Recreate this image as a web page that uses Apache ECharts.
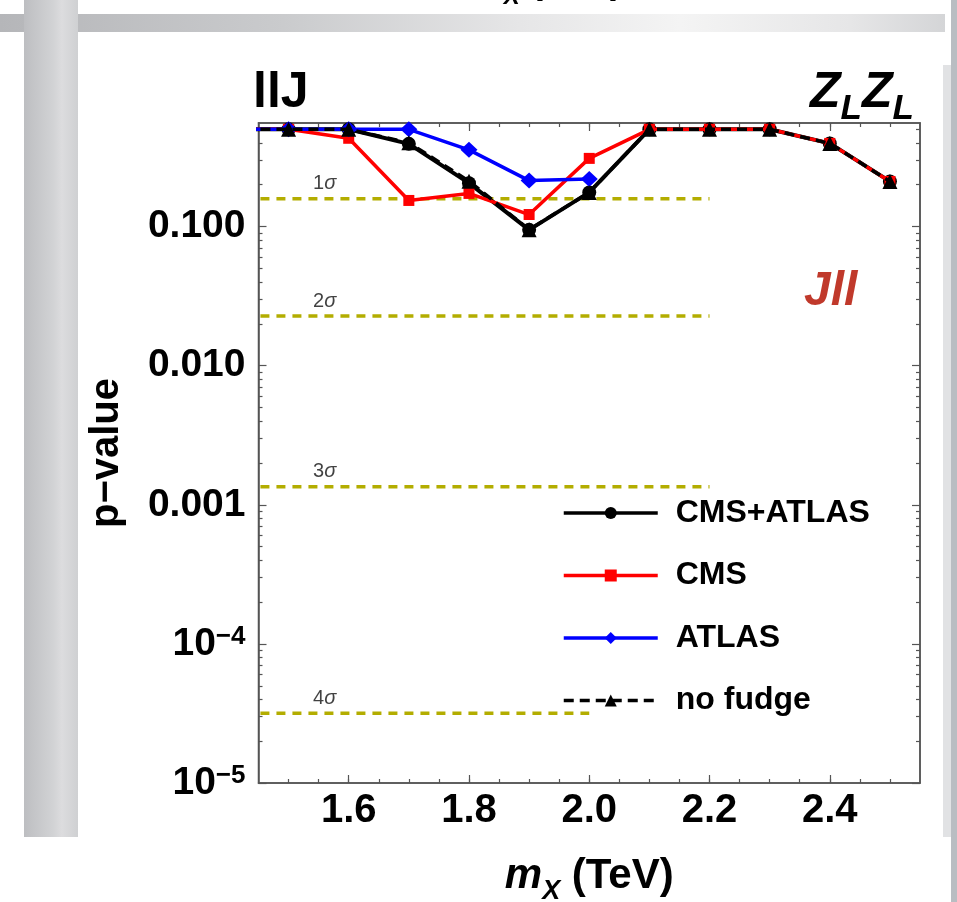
<!DOCTYPE html>
<html>
<head>
<meta charset="utf-8">
<script src="https://cdn.jsdelivr.net/npm/echarts@6/dist/echarts.min.js"></script>
<style>
  html, body { margin: 0; padding: 0; background: #ffffff; }
  #chart { width: 957px; height: 902px; }
</style>
</head>
<body>
<div id="chart"></div>
<script>
// Resonance mass points (TeV) and local p-values per channel
const massTeV    = [1.4, 1.5, 1.6, 1.7, 1.8, 1.9, 2.0, 2.1, 2.2, 2.3, 2.4, 2.5];
const pCombined  = [0.5, 0.5, 0.5, 0.393, 0.205, 0.0947, 0.176, 0.5, 0.5, 0.5, 0.396, 0.211];
const pCMS       = [0.5, 0.5, 0.431, 0.154, 0.173, 0.122, 0.309, 0.5, 0.5, 0.5, 0.396, 0.211];
const massATLAS  = [1.4, 1.5, 1.6, 1.7, 1.8, 1.9, 2.0];
const pATLAS     = [0.5, 0.5, 0.5, 0.5, 0.356, 0.214, 0.220];
const pNoFudge   = [0.5, 0.5, 0.5, 0.40, 0.212, 0.095, 0.176, 0.5, 0.5, 0.5, 0.396, 0.211];

const seriesNames = ['CMS+ATLAS', 'CMS', 'ATLAS', 'no fudge'];

// One-sided significance reference levels
const sigmaLevels = ['1', '2', '3', '4'];
const sigmaP      = [0.1587, 0.02275, 0.00135, 3.167e-5];
const sigmaStart  = [1.4, 1.4, 1.4, 1.4];
const sigmaEnd    = [2.2, 2.2, 2.2, 2.0];
const sigmaLabelX = 1.56;

// Axis ranges and tick labels
const xRange = [1.45, 2.55];
const yRange = [1e-5, 0.555];
const xTickValues = [1.6, 1.8, 2.0, 2.2, 2.4];
const xTickLabels = ['1.6', '1.8', '2.0', '2.2', '2.4'];
const yTickValues = [1e-5, 1e-4, 1e-3, 1e-2, 0.1];
const yTickLabels = ['10^−5', '10^−4', '0.001', '0.010', '0.100'];

// Minor tick positions
const xMinorTicks = [];
for (let v = 1.5; v <= 2.5001; v += 0.05) xMinorTicks.push(Math.round(v * 100) / 100);
const yMinorTicks = [];
for (let e = -5; e <= -1; e++) {
  for (let k = 2; k <= 9; k++) {
    const v = k * Math.pow(10, e);
    if (v <= yRange[1]) yMinorTicks.push(parseFloat(v.toPrecision(3)));
  }
}

const FONT = '"Liberation Sans", Arial, Helvetica, sans-serif';
const AXIS_COLOR = '#555';

function pairs(xs, ys) { return xs.map((x, i) => [x, ys[i]]); }

function xLabel(v) {
  const i = xTickValues.findIndex(t => Math.abs(t - v) < 1e-6);
  return i >= 0 ? xTickLabels[i] : '';
}
function yLabel(v) {
  let best = 0, bd = Infinity;
  yTickValues.forEach((t, i) => {
    const d = Math.abs(Math.log10(t) - Math.log10(v));
    if (d < bd) { bd = d; best = i; }
  });
  const s = yTickLabels[best];
  if (s.indexOf('^') >= 0) {
    const parts = s.split('^');
    return '{b|' + parts[0] + '}{s|' + parts[1] + '}';
  }
  return '{b|' + s + '}';
}

function xAxisDef(pos, major) {
  return {
    type: 'value', position: pos, min: xRange[0], max: xRange[1],
    axisLine: { show: major, onZero: false, lineStyle: { color: AXIS_COLOR, width: 1.5 } },
    axisTick: { show: true, inside: true, length: major ? 8 : 4,
      customValues: major ? xTickValues : xMinorTicks,
      lineStyle: { color: AXIS_COLOR, width: 1.2 } },
    axisLabel: { show: false },
    splitLine: { show: false }
  };
}
function yAxisDef(pos, major) {
  return {
    type: 'log', logBase: 10, position: pos, min: yRange[0], max: yRange[1],
    axisLine: { show: major, onZero: false, lineStyle: { color: AXIS_COLOR, width: 1.5 } },
    axisTick: { show: true, inside: true, length: major ? 8 : 4,
      customValues: major ? yTickValues : yMinorTicks,
      lineStyle: { color: AXIS_COLOR, width: 1.2 } },
    axisLabel: { show: false },
    splitLine: { show: false }
  };
}

const xAxes = [xAxisDef('bottom', true), xAxisDef('bottom', false), xAxisDef('top', true), xAxisDef('top', false)];
xAxes[0].axisLabel = {
  show: true, customValues: xTickValues, formatter: xLabel, margin: 8,
  color: '#000', fontFamily: FONT, fontWeight: 'bold', fontSize: 40
};
xAxes[0].name = '{i|m}{sub|X}{t| (TeV)}';
xAxes[0].nameLocation = 'middle';
xAxes[0].nameGap = 72;
xAxes[0].nameTextStyle = {
  color: '#000', fontFamily: FONT,
  rich: {
    i: { fontSize: 42, fontWeight: 'bold', fontStyle: 'italic', fontFamily: FONT, color: '#000' },
    sub: { fontSize: 27, fontWeight: 'bold', fontStyle: 'italic', fontFamily: FONT, color: '#000', verticalAlign: 'bottom', padding: [0, 0, -8, 0] },
    t: { fontSize: 42, fontWeight: 'bold', fontFamily: FONT, color: '#000' }
  }
};

const yAxes = [yAxisDef('left', true), yAxisDef('left', false), yAxisDef('right', true), yAxisDef('right', false)];
yAxes[0].axisLabel = {
  show: true, customValues: yTickValues, formatter: yLabel, margin: 13,
  color: '#000', fontFamily: FONT,
  rich: {
    b: { fontSize: 39, fontWeight: 'bold', fontFamily: FONT, color: '#000', lineHeight: 40 },
    s: { fontSize: 26, fontWeight: 'bold', fontFamily: FONT, color: '#000', verticalAlign: 'top', lineHeight: 22 }
  }
};
yAxes[0].name = 'p−value';
yAxes[0].nameLocation = 'middle';
yAxes[0].nameGap = 132;
yAxes[0].nameTextStyle = { color: '#000', fontFamily: FONT, fontWeight: 'bold', fontSize: 40 };

const sigmaSeries = sigmaP.map((p, i) => ({
  type: 'line', name: 'sigma' + sigmaLevels[i], silent: true, z: 1,
  data: [[sigmaStart[i], p], [sigmaEnd[i], p]],
  symbol: 'none',
  lineStyle: { color: '#b3ad00', width: 3.5, type: [9, 7] }
}));

const sigmaLabelSeries = {
  type: 'scatter', silent: true, z: 1, symbolSize: 0,
  data: sigmaP.map((p, i) => [sigmaLabelX, p, sigmaLevels[i]]),
  label: {
    show: true, position: 'top', distance: 5,
    formatter: prm => '{n|' + prm.data[2] + '}{s|σ}',
    rich: {
      n: { fontSize: 20, fontFamily: FONT, color: '#111' },
      s: { fontSize: 20, fontFamily: FONT, fontStyle: 'italic', color: '#111' }
    }
  }
};

const dataSeries = [
  {
    type: 'line', name: seriesNames[0], data: pairs(massTeV, pCombined), z: 2,
    color: '#000000', symbol: 'circle', symbolSize: 14, showAllSymbol: true,
    lineStyle: { color: '#000000', width: 4 }, itemStyle: { color: '#000000' }
  },
  {
    type: 'line', name: seriesNames[1], data: pairs(massTeV, pCMS), z: 3,
    color: '#ff0000', symbol: 'rect', symbolSize: 11, showAllSymbol: true,
    lineStyle: { color: '#ff0000', width: 3.5 }, itemStyle: { color: '#ff0000' }
  },
  {
    type: 'line', name: seriesNames[2], data: pairs(massATLAS, pATLAS), z: 4,
    color: '#0000ff', symbol: 'diamond', symbolSize: [17, 16], showAllSymbol: true,
    lineStyle: { color: '#0000ff', width: 3.5 }, itemStyle: { color: '#0000ff' }
  },
  {
    type: 'line', name: seriesNames[3], data: pairs(massTeV, pNoFudge), z: 5,
    color: '#000000', symbol: 'triangle', symbolSize: 15, showAllSymbol: true,
    lineStyle: { color: '#000000', width: 3.5, type: [10, 6] }, itemStyle: { color: '#000000' }
  }
];

// Slide decoration around the figure
const bandFill = new echarts.graphic.LinearGradient(0, 0, 1, 0, [
  { offset: 0, color: '#b5b6b9' },
  { offset: 0.3, color: '#cacbcd' },
  { offset: 0.55, color: '#e6e6e7' },
  { offset: 0.72, color: '#f4f4f4' },
  { offset: 0.9, color: '#e6e6e7' },
  { offset: 1, color: '#d4d5d7' }
]);
const barFill = new echarts.graphic.LinearGradient(0, 0, 1, 0, [
  { offset: 0, color: '#bdbec1' },
  { offset: 0.55, color: '#d2d3d5' },
  { offset: 0.7, color: '#dcdcde' },
  { offset: 1, color: '#cfd0d2' }
]);

const graphics = [
  { type: 'rect', z: -5, shape: { x: 0, y: 14, width: 945, height: 18 }, style: { fill: bandFill } },
  { type: 'rect', z: -4, shape: { x: 24, y: 0, width: 54, height: 837 }, style: { fill: barFill } },
  { type: 'rect', z: -5, shape: { x: 943, y: 65, width: 8, height: 772 }, style: { fill: '#e1e2e4' } },
  { type: 'rect', z: -5, shape: { x: 951, y: 0, width: 6, height: 902 }, style: { fill: '#b9bdc2' } },
  {
    type: 'text', z: 10, left: 253, top: 68,
    style: { text: 'llJ', font: 'bold 50px ' + FONT, fill: '#000' }
  },
  {
    type: 'text', z: 10, left: 810, top: 68,
    style: {
      text: '{z|Z}{l|L}{z|Z}{l|L}',
      rich: {
        z: { font: 'italic bold 50px ' + FONT, fill: '#000', verticalAlign: 'top' },
        l: { font: 'italic bold 35px ' + FONT, fill: '#000', verticalAlign: 'bottom', padding: [0, 0, -9, 0] }
      }
    }
  },
  {
    type: 'text', z: 10, left: 804, top: 268,
    style: { text: 'Jll', font: 'italic bold 48px ' + FONT, fill: '#c0392b' }
  },
  {
    type: 'text', z: 10, left: 470, top: -36,
    style: {
      text: '{i|m}{sub|X}{t| (TeV)}',
      rich: {
        i: { font: 'italic bold 38px ' + FONT, fill: '#000' },
        sub: { font: 'italic bold 24px ' + FONT, fill: '#000', verticalAlign: 'bottom', padding: [0, 0, -7, 0] },
        t: { font: 'bold 38px ' + FONT, fill: '#000' }
      }
    }
  }
];

const legendData = [
  { name: seriesNames[0], lineStyle: { width: 3.5 } },
  { name: seriesNames[1], lineStyle: { width: 3.5 } },
  { name: seriesNames[2], lineStyle: { width: 3.5 } },
  { name: seriesNames[3], lineStyle: { width: 3.5 } }
];

const chart = echarts.init(document.getElementById('chart'), null, { renderer: 'canvas' });
chart.setOption({
  animation: false,
  backgroundColor: '#ffffff',
  grid: { left: 258.5, right: 37, top: 123, bottom: 119, outerBoundsMode: 'none', containLabel: false,
          show: true, borderColor: AXIS_COLOR, borderWidth: 1.5, backgroundColor: 'transparent' },
  xAxis: xAxes,
  yAxis: yAxes,
  legend: {
    data: legendData,
    orient: 'vertical', left: 562, top: 497, padding: 0,
    itemWidth: 94, itemHeight: 15, itemGap: 30.5,
    selectedMode: false,
    textStyle: { color: '#000', fontFamily: FONT, fontWeight: 'bold', fontSize: 32, padding: [0, 0, 0, 13] }
  },
  graphic: graphics,
  series: [...sigmaSeries, sigmaLabelSeries, ...dataSeries]
});
</script>
</body>
</html>
